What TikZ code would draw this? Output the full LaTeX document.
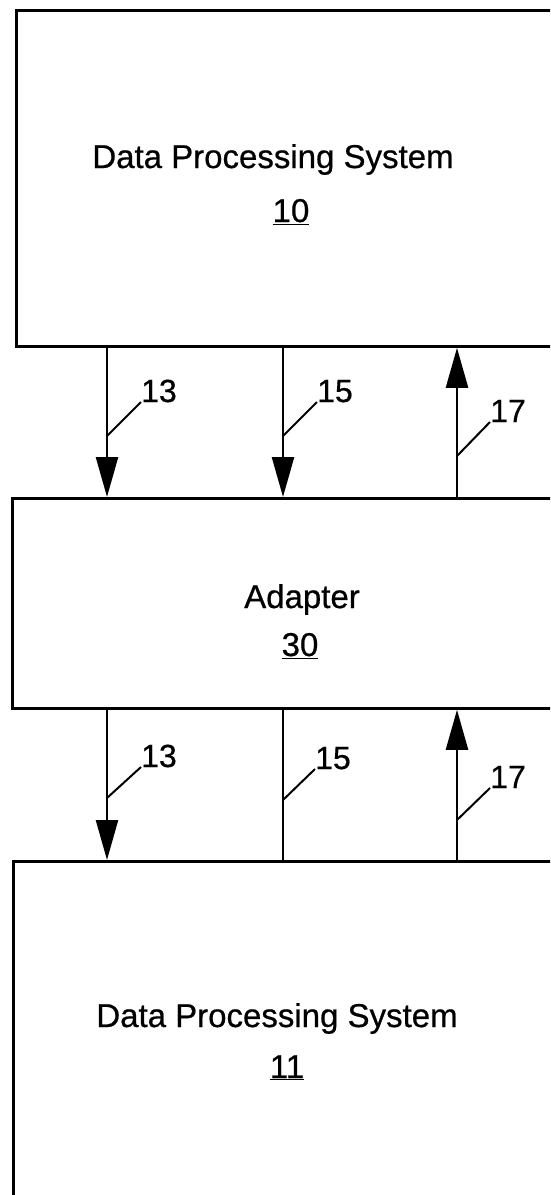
\documentclass[tikz,border=0pt]{standalone}
\usepackage{fontspec}
\setmainfont{Liberation Sans}
\newfontfamily\scanfont[FakeBold=0.6]{Liberation Sans}
\usetikzlibrary{arrows.meta,positioning}

\begin{document}
\begin{tikzpicture}[x=1pt,y=-1pt]
  \tikzstyle{box}=[draw,line width=2.8pt,anchor=north west,inner sep=0pt]
  \tikzstyle{boxtext}=[font=\scanfont\fontsize{33}{40}\selectfont,inner sep=0pt,anchor=base]
  \tikzstyle{reflbl}=[font=\scanfont\fontsize{32}{36}\selectfont,inner sep=0pt,anchor=base west]
  \tikzstyle{f}=[-{Triangle[length=40pt,width=22pt]},line width=2.4pt]
  \tikzstyle{bus}=[line width=2.4pt]
  \tikzstyle{lead}=[line width=2pt]

  \useasboundingbox (0,0) rectangle (550,1195);
  \clip (0,0) rectangle (550,1195);

  % -- Data Processing System 10 --
  \node[box,minimum width=545pt,minimum height=336pt] (sys10) at (15,9) {};
  \node[boxtext] (t10) at (273,168) {Data Processing System};
  \node[boxtext] (n10) at (291,222) {\underline{10}};

  % -- Adapter 30 --
  \node[box,minimum width=549pt,minimum height=210pt] (adapter) at (11,497) {};
  \node[boxtext] (t30) at (302,608) {Adapter};
  \node[boxtext] (n30) at (300,656) {\underline{30}};

  % -- Data Processing System 11 --
  \node[box,minimum width=548pt,minimum height=400pt] (sys11) at (12,860) {};
  \node[boxtext] (t11) at (277,1027) {Data Processing System};
  \node[boxtext] (n11) at (287,1078) {\underline{11}};

  % -- line positions --
  \coordinate (x13) at (107,0);
  \coordinate (x15) at (283,0);
  \coordinate (x17) at (457,0);

  % -- lines between 10 and adapter --
  \draw[f] (sys10.south -| x13) -- (adapter.north -| x13);
  \draw[f] (sys10.south -| x15) -- (adapter.north -| x15);
  \draw[f] (adapter.north -| x17) -- (sys10.south -| x17);

  \node[reflbl] (l13a) at (141,402) {13};
  \node[reflbl] (l15a) at (317,402) {15};
  \node[reflbl] (l17a) at (490,422) {17};
  \coordinate (p13a) at (107,436);
  \coordinate (p15a) at (283,436);
  \coordinate (p17a) at (457,456);
  \draw[lead] (p13a) -- (l13a.base west);
  \draw[lead] (p15a) -- (l15a.base west);
  \draw[lead] (p17a) -- (l17a.base west);

  % -- lines between adapter and 11 --
  \draw[f] (adapter.south -| x13) -- (sys11.north -| x13);
  \draw[bus] (adapter.south -| x15) -- (sys11.north -| x15);
  \draw[f] (sys11.north -| x17) -- (adapter.south -| x17);

  \node[reflbl] (l13b) at (141,767) {13};
  \node[reflbl] (l15b) at (315,769) {15};
  \node[reflbl] (l17b) at (490,788) {17};
  \coordinate (p13b) at (107,798);
  \coordinate (p15b) at (283,800);
  \coordinate (p17b) at (457,820);
  \draw[lead] (p13b) -- (l13b.base west);
  \draw[lead] (p15b) -- (l15b.base west);
  \draw[lead] (p17b) -- (l17b.base west);
\end{tikzpicture}
\end{document}
